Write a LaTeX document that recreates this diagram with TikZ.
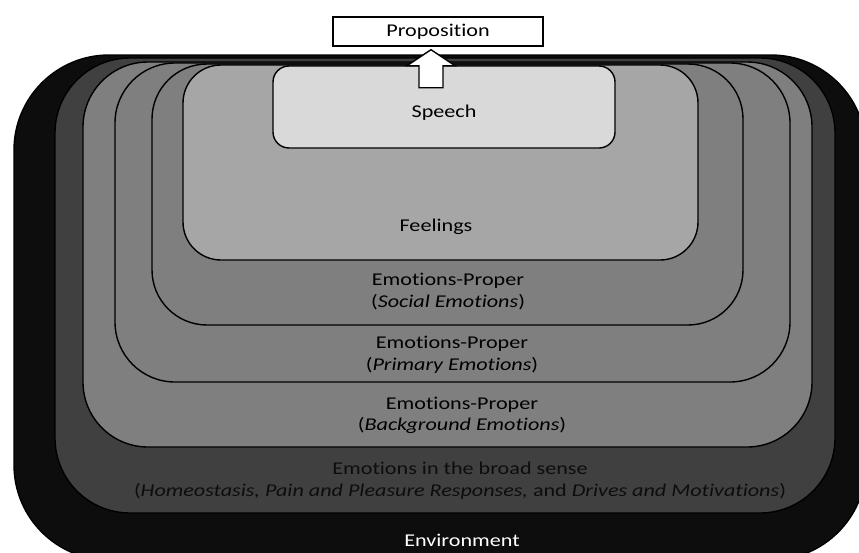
\documentclass[tikz,border=0pt]{standalone}
\usepackage{fontspec}
\setmainfont[FakeStretch=1.23, Ligatures=NoCommon]{Carlito}
\usetikzlibrary{positioning, calc}

\definecolor{envgray}{HTML}{0D0D0D}
\definecolor{broadgray}{HTML}{404040}
\definecolor{propgray}{HTML}{7F7F7F}
\definecolor{feelgray}{HTML}{A6A6A6}
\definecolor{speechgray}{HTML}{D9D9D9}

\begin{document}
\begin{tikzpicture}[
        x=1pt, y=-1pt,
        layer/.style={draw, line width=1.4pt, inner sep=0pt, rounded corners=#1},
        layer/.default=40pt,
        label_text/.style={font=\fontsize{18}{21.5}\selectfont, align=center, text=black},
        blockarrow/.style={draw, fill=white, line width=1.4pt, line join=miter}
    ]

        \useasboundingbox (0,0) rectangle (859,552);
        \clip (0,0) rectangle (859,552);

        % nested layers, outermost first
        \node[layer=95pt, fill=envgray, minimum width=852pt, minimum height=505pt] (env) at (440, 307.5) {};
        \node[layer=75pt, fill=broadgray, minimum width=780pt, minimum height=455pt] (broad) at (445, 285.5) {};
        \node[layer=65pt, fill=propgray, minimum width=729pt, minimum height=385pt] (background) at (447.5, 254.5) {};
        \node[layer=60pt, fill=propgray, minimum width=675pt, minimum height=319pt] (primary) at (452.5, 222.5) {};
        \node[layer=55pt, fill=propgray, minimum width=591pt, minimum height=261pt] (social) at (447.5, 194.5) {};
        \node[layer=38pt, fill=feelgray, minimum width=515pt, minimum height=195pt] (feelings) at (440.5, 162.5) {};
        \node[layer=16pt, fill=speechgray, minimum width=342pt, minimum height=82pt] (speech) at (444, 107) {};

        \node[draw, line width=1.4pt, fill=white, minimum width=210pt, minimum height=29pt, inner sep=0pt] (prop) at (438, 31.5) {};

        % labels
        \node[label_text] (lbl_prop) at (prop.center) {Proposition};
        \node[label_text] (lbl_speech) at (444, 113) {Speech};
        \node[label_text] (lbl_feelings) at (436, 227) {Feelings};
        \node[label_text] (lbl_social) at (448, 291.5) {Emotions-Proper\\(\textit{Social Emotions})};
        \node[label_text] (lbl_primary) at (452, 355) {Emotions-Proper\\(\textit{Primary Emotions})};
        \node[label_text] (lbl_background) at (462, 415.5) {Emotions-Proper\\(\textit{Background Emotions})};
        \node[label_text, text=black!95] (lbl_broad) at (460, 480.5) {Emotions in the broad sense\\(\textit{Homeostasis, Pain and Pleasure Responses,} and \textit{Drives and Motivations})};
        \node[label_text, text=white] (lbl_env) at (462, 540) {Environment};

        % block arrow from speech up to the proposition
        \coordinate (tip) at ($(prop.south)+(-7,3)$);
        \draw[blockarrow] (tip) -- ++(24,16) -- ++(-12,0) -- ++(0,22) -- ++(-24,0) -- ++(0,-22) -- ++(-12,0) -- cycle;

    \end{tikzpicture}
\end{document}
